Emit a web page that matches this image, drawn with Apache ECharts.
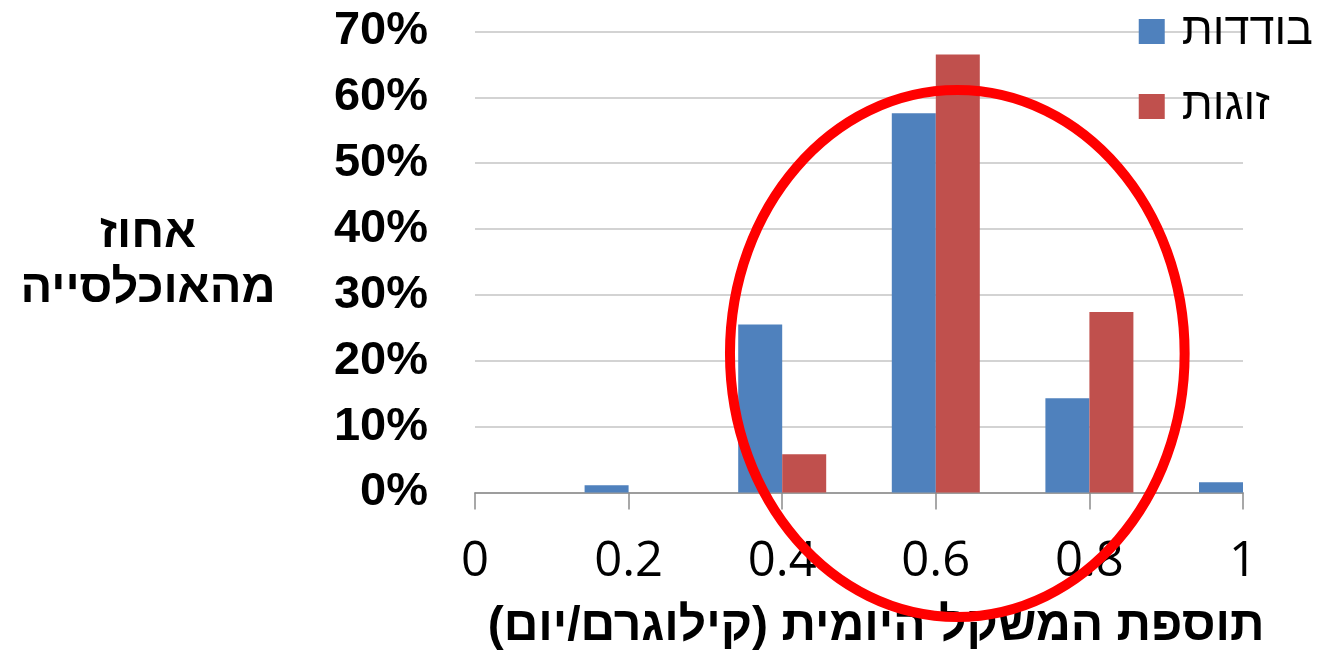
<!DOCTYPE html>
<html>
<head>
<meta charset="utf-8">
<script src="https://cdn.jsdelivr.net/npm/echarts@6/dist/echarts.min.js"></script>
<style>
html,body{margin:0;padding:0;background:#fff;}
#c{width:1319px;height:654px;}
</style>
</head>
<body>
<div id="c"></div>
<script>
const xPositions = [0.2, 0.4, 0.6, 0.8, 1.0];
const singles = [1.1, 25.5, 57.6, 14.3, 1.55];   // בודדות
const couples = [0, 5.8, 66.5, 27.4, 0];        // זוגות
const seriesNames = ['בודדות', 'זוגות'];
const xTicks = [0, 0.2, 0.4, 0.6, 0.8, 1];
const yTicks = [0, 10, 20, 30, 40, 50, 60, 70];
const xName = '\u200Fתוספת המשקל היומית (קילוגרם/יום)\u200F';
const yName = 'אחוז\nמהאוכלסייה';
// annotation ellipse in data units: [centerX, centerY%, radiusX, radiusY%]
const ellipseData = [0.628, 21.1, 0.296, 40.0];

const chart = echarts.init(document.getElementById('c'));
const option = {
  animation: false,
  backgroundColor: '#fff',
  grid: {left: 475, right: 76, top: 31.5, bottom: 161.5, containLabel: false, outerBoundsMode: 'none'},
  legend: {
    orient: 'vertical',
    right: 6, top: 9, padding: 0,
    itemWidth: 26, itemHeight: 25, itemGap: 30,
    icon: 'rect',
    textStyle: {fontFamily: 'Liberation Sans', fontSize: 45, color: '#000', padding: [0, 0, 0, 12]},
    data: seriesNames
  },
  xAxis: {
    type: 'value', min: 0, max: 1, interval: 0.2,
    name: xName, nameLocation: 'middle', nameGap: 110,
    nameTextStyle: {fontFamily: 'Liberation Sans', fontWeight: 'bold', fontSize: 48, color: '#000', padding: [0, 0, 0, 34]},
    axisLine: {show: true, lineStyle: {color: '#8c8c8c', width: 1.5}},
    axisTick: {show: true, length: 17, lineStyle: {color: '#8c8c8c', width: 1.5}},
    splitLine: {show: false},
    axisLabel: {fontFamily: 'Open Sans', fontSize: 49, color: '#000', margin: 45,
      formatter: v => { const t = xTicks.find(x => Math.abs(x - v) < 1e-9); return t === undefined ? '' : String(t); }}
  },
  yAxis: {
    type: 'value', min: 0, max: 70, interval: 10,
    name: yName, nameLocation: 'middle', nameRotate: 0, nameGap: 327,
    nameTextStyle: {fontFamily: 'Liberation Sans', fontWeight: 'bold', fontSize: 47, color: '#000', lineHeight: 55, align: 'center'},
    axisLine: {show: false},
    axisTick: {show: false},
    splitLine: {show: true, lineStyle: {color: '#c4c4c4', width: 1.5}},
    axisLabel: {fontFamily: 'Liberation Sans', fontWeight: 'bold', fontSize: 47, color: '#000', margin: 47,
      formatter: v => yTicks.includes(v) ? v + '%' : ''}
  },
  series: [
    {name: seriesNames[0], type: 'bar', barWidth: 44, barGap: '0%',
     itemStyle: {color: '#4f81bd'},
     data: xPositions.map((x, i) => [x, singles[i]])},
    {name: seriesNames[1], type: 'bar', barWidth: 44, barGap: '0%',
     itemStyle: {color: '#c0504d'},
     data: xPositions.map((x, i) => [x, couples[i]])}
  ]
};
chart.setOption(option);
const c0 = chart.convertToPixel({gridIndex: 0}, [ellipseData[0], ellipseData[1]]);
const c1 = chart.convertToPixel({gridIndex: 0}, [ellipseData[0] + ellipseData[2], ellipseData[1] + ellipseData[3]]);
chart.setOption({
  graphic: [{
    type: 'ellipse', z: 100,
    shape: {cx: c0[0], cy: c0[1], rx: Math.abs(c1[0] - c0[0]), ry: Math.abs(c1[1] - c0[1])},
    style: {fill: 'none', stroke: '#ff0000', lineWidth: 10}
  }]
});
</script>
</body>
</html>
